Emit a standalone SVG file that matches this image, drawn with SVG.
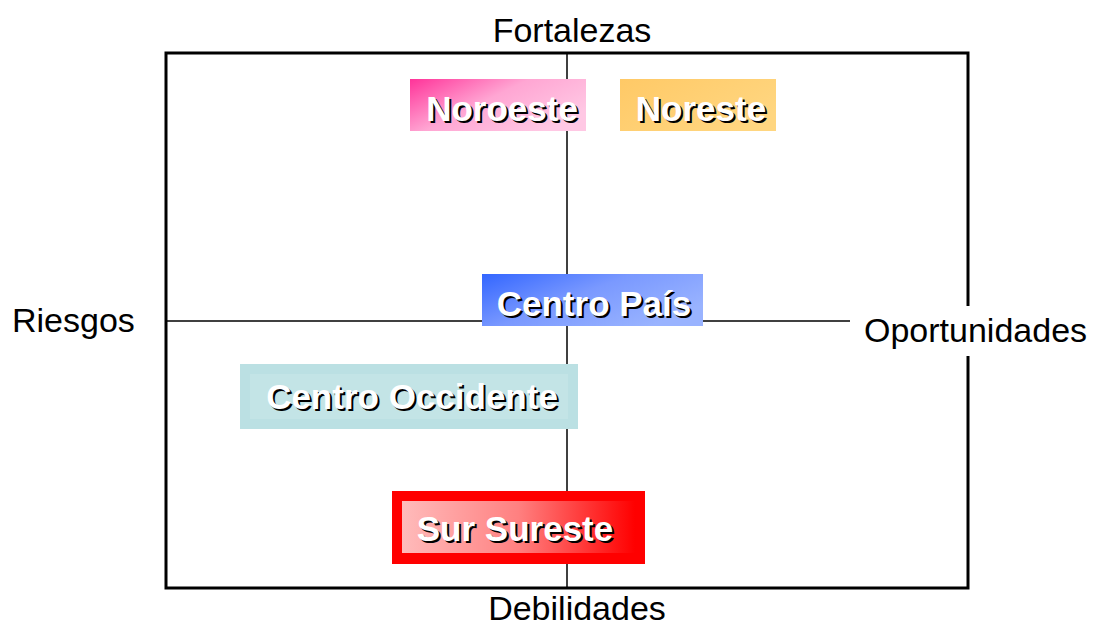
<svg xmlns="http://www.w3.org/2000/svg" width="1096" height="627" viewBox="0 0 1096 627">
<defs>
<linearGradient id="gPink" x1="0" y1="0" x2="1" y2="0.6"><stop offset="0" stop-color="#FF3399"/><stop offset="0.5" stop-color="#FFA6D3"/><stop offset="1" stop-color="#FFC8E4"/></linearGradient>
<linearGradient id="gOrange" x1="0" y1="0" x2="1" y2="0.6"><stop offset="0" stop-color="#FFC966"/><stop offset="1" stop-color="#FFD680"/></linearGradient>
<linearGradient id="gBlue" x1="0" y1="0" x2="1" y2="0.6"><stop offset="0" stop-color="#3366FF"/><stop offset="0.5" stop-color="#7A99FF"/><stop offset="1" stop-color="#99B3FF"/></linearGradient>
<linearGradient id="gRed" x1="0" y1="0" x2="1" y2="0"><stop offset="0" stop-color="#FFBBBB"/><stop offset="0.5" stop-color="#FF8080"/><stop offset="1" stop-color="#FF0000"/></linearGradient>
<style>
.ax{fill:#000;font-family:"Liberation Sans",Arial,sans-serif;font-size:34px}
.lb{font-family:"Liberation Sans",Arial,sans-serif;font-size:35px;font-weight:bold;text-anchor:middle}
.sh{fill:#000}
.fg{fill:#fff}
.ln{stroke:#000;stroke-width:1.5;fill:none}
</style>
</defs>
<g id="connectors">
<rect x="166" y="53" width="802" height="535" fill="none" stroke="#000" stroke-width="3"/>
<line class="ln" x1="567" y1="53" x2="567" y2="588"/>
<line class="ln" x1="166" y1="321" x2="850" y2="321"/>
</g>
<g id="axis-labels">
<text class="ax" x="572" y="42" text-anchor="middle">Fortalezas</text>
<text class="ax" x="577" y="620" text-anchor="middle">Debilidades</text>
<text class="ax" x="12" y="332">Riesgos</text>
<rect x="856" y="306" width="240" height="50" fill="#fff"/>
<text class="ax" x="864" y="342">Oportunidades</text>
</g>
<g id="noroeste">
<rect x="410" y="79" width="176" height="52" fill="url(#gPink)"/>
<text class="lb sh" x="504" y="123">Noroeste</text>
<text class="lb fg" x="502" y="121">Noroeste</text>
</g>
<g id="noreste">
<rect x="620" y="79" width="156" height="52" fill="url(#gOrange)"/>
<text class="lb sh" x="703" y="123">Noreste</text>
<text class="lb fg" x="701" y="121">Noreste</text>
</g>
<g id="centro-pais">
<rect x="482" y="274" width="221" height="52" fill="url(#gBlue)"/>
<text class="lb sh" x="596" y="318">Centro País</text>
<text class="lb fg" x="594" y="316">Centro País</text>
</g>
<g id="centro-occidente">
<rect x="240" y="364" width="338" height="65" fill="#BBE0E3"/>
<rect x="250" y="374" width="318" height="45" fill="#C3E4E6"/>
<text class="lb sh" x="414" y="411">Centro Occidente</text>
<text class="lb fg" x="412" y="409">Centro Occidente</text>
</g>
<g id="sur-sureste">
<rect x="392" y="491" width="253" height="73" fill="#FF0000"/>
<rect x="402" y="501" width="233" height="52" fill="url(#gRed)"/>
<text class="lb sh" x="517" y="543">Sur Sureste</text>
<text class="lb fg" x="515" y="541">Sur Sureste</text>
</g>
</svg>
